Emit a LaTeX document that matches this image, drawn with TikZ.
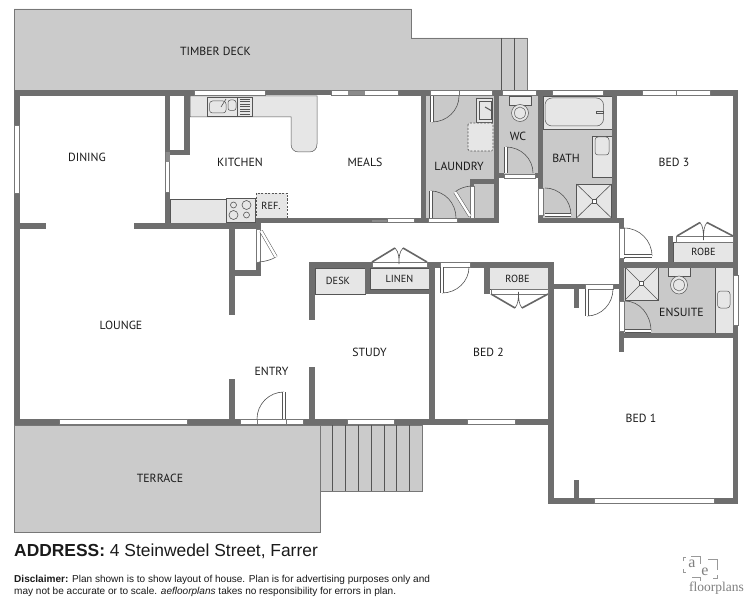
\documentclass[tikz,border=0pt]{standalone}
\usepackage{fontspec}
\setmainfont{PT Sans}
\newfontfamily\footfont{Liberation Sans}
\newfontfamily\logofont{Liberation Serif}
\usetikzlibrary{calc}
\definecolor{wallc}{HTML}{6E6E6E}
\definecolor{deckc}{HTML}{CBCBCB}
\definecolor{palec}{HTML}{E6E6E6}
\definecolor{roomc}{HTML}{C9C9C9}
\definecolor{linec}{HTML}{555555}
\definecolor{labelc}{HTML}{1A1A1A}
\tikzset{
  deck/.style={fill=deckc,draw=linec!80,line width=.7pt},
  stair/.style={draw=linec,line width=.5pt},
  wallpart/.style={fill=wallc,draw=none},
  winpart/.style={fill=white,draw=linec!80,line width=.4pt},
  roomfill/.style={fill=roomc,draw=none},
  fixture/.style={fill=palec,draw=linec,line width=.5pt},
  fixline/.style={draw=linec,line width=.6pt},
  dashfix/.style={fill=palec,draw=linec,line width=.7pt,dash pattern=on 2pt off 1.5pt},
  leafpart/.style={draw=linec,line width=.5pt,double=white,double distance=2.4pt},
  swing/.style={draw=linec,line width=.6pt},
  foldleaf/.style={draw=linec!90,line width=1.6pt},
  lab/.style={font=\fontsize{11.8}{14}\selectfont,text=labelc,inner sep=0pt},
  smalllab/.style={font=\fontsize{10.3}{12}\selectfont,text=labelc,inner sep=0pt},
  foot/.style={font=\footfont\fontsize{10.05}{12}\selectfont,text=labelc,anchor=base west,inner sep=0pt},
}
\newcommand\wl[4]{\fill[wallpart] (#1,#2) rectangle (#3,#4);}
\newcommand\win[4]{\path[winpart] (#1,#2) rectangle (#3,#4);}
\newcommand\door[3]{%
  \draw[swing] (#2) .. controls ($(#2)!0.552!($(#2)+(#3)-(#1)$)$) and ($(#3)!0.552!($(#2)+(#3)-(#1)$)$) .. (#3);
  \draw[leafpart] (#1) -- (#2);}
\newcommand\shower[4]{%
  \path[fixture] (#1,#2) rectangle (#3,#4);
  \draw[fixline] (#1,#2) -- (#3,#4) (#1,#4) -- (#3,#2);
  \path[fill=white,draw=linec,line width=.5pt] ($(#1,#2)!.5!(#3,#4)+(-2.2,-2.2)$) rectangle ($(#1,#2)!.5!(#3,#4)+(2.2,2.2)$);}
\newcommand\toilet[4]{%
  \path[fixture] (#1-11,#2) rectangle (#1+11,#2+9);
  \path[fixture] (#1,#3) ellipse (8.5 and #4);
  \path[draw=linec,line width=.5pt,fill=palec] (#1,#3) ellipse (5.5 and 6);}
\begin{document}
\begin{tikzpicture}[x=1pt,y=-1pt]
\useasboundingbox (0,0) rectangle (750,607);
\fill[white] (0,0) rectangle (750,607);
% outdoor areas
\path[deck] (14,9) -- (411.5,9) -- (411.5,38) -- (527,38) -- (527,90) -- (14,90) -- cycle;
\draw[stair] (501.7,38) -- (501.7,90) (514.7,38) -- (514.7,90);
\path[deck] (14,425) rectangle (320,532);
\path[deck,line width=.5pt] (320,425) rectangle (422,491);
\foreach \sx in {332.7,345.7,358.3,371.3,384,396.7,409.7} {\draw[stair] (\sx,425) -- (\sx,491);}
% wet rooms
\fill[roomfill] (426,96) rectangle (494,218);
\fill[roomfill] (499,96) rectangle (538,174);
\fill[roomfill] (543,96) rectangle (612,218);
\fill[roomfill] (624,267) rectangle (733,333);
% built in joinery
\path[fixture] (190,96) -- (317,96) -- (317,144) .. controls (317,149) and (314,152) .. (309,152) -- (299,152) .. controls (294,152) and (291,149) .. (291,144) -- (291,117) -- (190,117) -- cycle;
\path[fixture] (207,97) rectangle (252,116);
\draw[fixline] (237,97) -- (237,116);
\path[fixture,rounded corners=3pt] (209.5,101) rectangle (226,113);
\path[fixture,rounded corners=2.5pt] (228,100) rectangle (236,110.5);
\foreach \dy in {99,101.5,...,114} {\draw[linec,line width=.5pt] (240,\dy) -- (250,\dy);}
\draw[fixline] (221,107) -- (226,99);
\path[fixture] (170,199) rectangle (226,223);
\path[fixture] (226,198) rectangle (255,222);
\draw[fixline] (226,198) -- (255,198);
\path[fixline] (233.5,205) circle (3) (246.5,205) circle (4.5) (233.5,215) circle (4.5) (246.5,215) circle (3);
\path[dashfix] (256,193) rectangle (287,218);
\path[fixture] (315,268) rectangle (365,294);
\path[fixture] (370,268) rectangle (429,289.5);
\path[fixture] (488,267) rectangle (548,289.5);
\path[fixture] (673,242) rectangle (733,262);
% laundry fixtures
\path[fixture] (476,98) rectangle (492,122);
\path[fixture] (479,101) rectangle (491,119);
\draw[fixline,line width=1pt] (485,107) -- (492,111);
\path[dashfix,rounded corners=1.5pt] (468,123) rectangle (493,151);
% wc
\toilet{520}{96}{113}{8.5}
% bath fixtures
\path[fixture] (543,96) rectangle (612,129);
\path[fixture,rounded corners=7pt] (545,98) rectangle (603.5,126);
\path[fixture] (596,111.5) rectangle (603,113.5);
\path[fixture] (592,136) rectangle (612,177);
\path[fixture,rounded corners=3pt] (595,137) rectangle (609,155);
\shower{576.5}{184}{611.5}{218}
% ensuite fixtures
\shower{625}{267}{658}{300}
\toilet{679}{267}{285}{9}
\path[fixture] (715,267) rectangle (733,333);
\path[fixture,rounded corners=3pt] (717.5,291) rectangle (730,308);
% walls
\wl{14}{90}{194.5}{96}\wl{265}{90}{331}{95.5}\wl{398}{90}{430}{96}\wl{492}{90}{502}{96}\wl{536}{90}{552}{96}\wl{603}{90}{642}{96}\wl{710}{90}{738}{96}
\wl{14}{96}{19.5}{125}\wl{14}{193}{19.5}{425}
\wl{19}{223}{46}{229}\wl{134}{223}{261}{229}
\wl{256}{218}{387}{223}\wl{255.5}{218}{261}{229}
\wl{165}{96}{170}{152}\wl{165}{192}{170}{229}
\wl{184}{96}{190}{155}\wl{170}{150}{190}{155}
\wl{229}{229}{235}{315}\wl{235}{270}{261}{276}\wl{255.5}{262}{261}{276}
\wl{229}{379}{235}{420}
\wl{309}{262}{315}{320}\wl{309}{367}{315}{420}
\wl{309}{262}{372}{267.5}\wl{427}{262}{440}{267.5}\wl{470}{262}{553}{267.5}
\wl{365}{262}{370}{294}\wl{365}{289.5}{435}{294}
\wl{429}{262}{435}{425}
\wl{14}{419}{59.5}{425}\wl{187}{419}{240}{425}\wl{303}{419}{347}{425}\wl{394}{419}{467.5}{425}\wl{515.5}{419}{553}{425}
\wl{548}{262}{554}{504}
\wl{484}{262}{490}{294}
\wl{548}{284}{585}{289}\wl{613}{284}{624}{289}
\wl{574}{289}{579}{308}
\wl{619}{218}{624}{228}\wl{619}{258}{624}{301}\wl{619}{331}{624}{352}
\wl{538}{218}{624}{223}
\wl{612}{96}{617}{218}
\wl{538}{96}{543}{188}\wl{538}{215}{543}{223}
\wl{494}{96}{499}{223}
\wl{499}{173.5}{504}{178}\wl{535}{173.5}{543}{178}
\wl{421}{96}{426}{223}
\wl{414}{218}{428}{223}\wl{457}{218}{499}{223}
\wl{470}{179}{499}{184}\wl{470}{179}{474}{186}
\wl{733}{96}{738}{275}\wl{733}{325}{738}{504}
\wl{619}{262}{738}{267.5}
\wl{619}{333}{738}{338}
\wl{668}{236}{673}{262}
\wl{548}{498}{594}{504}\wl{714}{498}{738}{504}
\wl{574}{480}{579}{498}
% windows and frames
\win{194.5}{90.5}{265}{95.5}\win{331}{90.5}{398}{95.5}
\fill[wallc!80] (348,91) rectangle (365,95);
\win{430}{90.5}{459}{95.5}\win{459}{90.5}{492}{95.5}\win{502}{90.5}{536}{95.5}\win{552}{90.5}{603}{95.5}\win{642}{90.5}{676}{95.5}\win{676}{90.5}{710}{95.5}
\win{14.5}{125}{19.5}{193}
\win{165.5}{152}{169.5}{192}
\fill[wallc!80] (165.5,152) rectangle (169.5,162);
\win{59.5}{419.5}{187}{424.5}\win{240}{419.5}{303}{424.5}\win{257}{419.5}{286}{424.5}\win{347}{419.5}{394}{424.5}\win{467.5}{419.5}{515.5}{424.5}
\win{387}{218.5}{414}{222.5}
\fill[wallc!80] (372,219.5) rectangle (387,221.5);
\win{428}{218.5}{457}{222.5}
\win{504}{174}{535}{178}
\win{470}{186}{474}{218}
\win{538.5}{188}{543}{215}
\win{372}{262.5}{427}{267.5}\win{440}{262.5}{470}{267.5}
\win{491}{289.5}{548}{294}
\win{585}{284.5}{613}{289}
\win{619.5}{228}{624}{258}\win{619.5}{301}{624}{331}
\win{733.5}{275}{738}{325}
\win{256}{229}{260}{262}
\win{594}{498.5}{714}{503.5}
\win{676}{236}{733}{242}
% swing doors
\door{432,96}{432,122}{459,96}
\door{431,218}{431,191}{456,218}
\door{506,173}{506,147}{533,173}
\door{545,215}{571,215}{545,188}
\door{624,256}{652,256}{624,228}
\door{625,331}{651,331}{625,301}
\door{442,267}{442,293}{469,267}
\door{587,289}{587,316}{613,289}
\door{284,419}{284,392}{257,419}
% angled doors
\draw[swing] (455,192) .. controls (459,188.5) and (465,186.5) .. (471,186);
\draw[leafpart,draw=linec] (470,216) -- (455,192);
\draw[swing] (276,257) .. controls (271,260) and (265,261.5) .. (259,262);
\draw[leafpart,draw=linec] (261,231) -- (276,257);
% folding doors
\draw[foldleaf] (372,262) -- (395,248) (427,262) -- (403,248);
\draw[swing] (395,248) .. controls (399,252) and (399,258) .. (399,264) .. controls (399,258) and (399,252) .. (403,248);
\draw[foldleaf] (491,294) -- (515,308) (548,294) -- (522,308);
\draw[swing] (515,308) .. controls (518,304) and (518.5,300) .. (518.5,292) .. controls (518.5,300) and (519,304) .. (522,308);
\draw[foldleaf] (677,236) -- (700,222.5) (733,236) -- (707,222.5);
\draw[swing] (700,222.5) .. controls (703,226) and (703.5,231) .. (703.5,240) .. controls (703.5,231) and (704,226) .. (707,222.5);
% labels
\node[lab] (ltimber) at (215.5,51) {TIMBER DECK};
\node[lab] (ldining) at (87,157.5) {DINING};
\node[lab] (lkitchen) at (240,162.5) {KITCHEN};
\node[lab] (lmeals) at (365,162.5) {MEALS};
\node[lab] (llaundry) at (459,166) {LAUNDRY};
\node[lab] (lwc) at (518,136) {WC};
\node[lab] (lbath) at (566,158) {BATH};
\node[lab] (lbed3) at (674,162.5) {BED 3};
\node[lab] (llounge) at (121,325.5) {LOUNGE};
\node[lab] (lentry) at (271.5,371.5) {ENTRY};
\node[lab] (lstudy) at (369.5,352.5) {STUDY};
\node[lab] (lbed2) at (488.5,352) {BED 2};
\node[lab] (lbed1) at (641,418) {BED 1};
\node[lab] (lterrace) at (160,478) {TERRACE};
\node[lab] (lensuite) at (681.5,312.5) {ENSUITE};
\node[smalllab] (ldesk) at (338,281) {DESK};
\node[smalllab] (llinen) at (399.5,278.5) {LINEN};
\node[smalllab] (lrobea) at (517.5,278.5) {ROBE};
\node[smalllab] (lrobeb) at (703.5,251.5) {ROBE};
\node[smalllab] (lref) at (271,205.5) {REF.};
% footer
\node[foot,font=\footfont\fontsize{17.4}{20}\selectfont] (addr) at (14,556.5) {\textbf{ADDRESS:} 4 Steinwedel Street, Farrer};
\node[foot] (disa) at (14,582) {\textbf{Disclaimer:} Plan shown is to show layout of house. Plan is for advertising purposes only and};
\node[foot] (disb) at (14,594) {may not be accurate or to scale. \textit{aefloorplans} takes no responsibility for errors in plan.};
% logo
\begin{scope}[text=black!50,inner sep=0pt]
\node[font=\logofont\fontsize{16}{18}\selectfont] (loga) at (692,564) {a};
\node[font=\logofont\fontsize{16}{18}\selectfont] (loge) at (705,572) {e};
\node[font=\logofont\fontsize{13.5}{15}\selectfont] (logf) at (716.5,588) {floorplans};
\draw[black!40,line width=.7pt] (683,561) -- (683,557.5) -- (686,557.5) (691,556.5) -- (700,556.5) -- (700,564) (683,569) -- (683,572) -- (686,572) (692,577) -- (700,577) -- (700,581) (708,559.5) -- (717,559.5) -- (717,570) (717,575) -- (717,578) -- (713,578);
\end{scope}
\end{tikzpicture}
\end{document}
